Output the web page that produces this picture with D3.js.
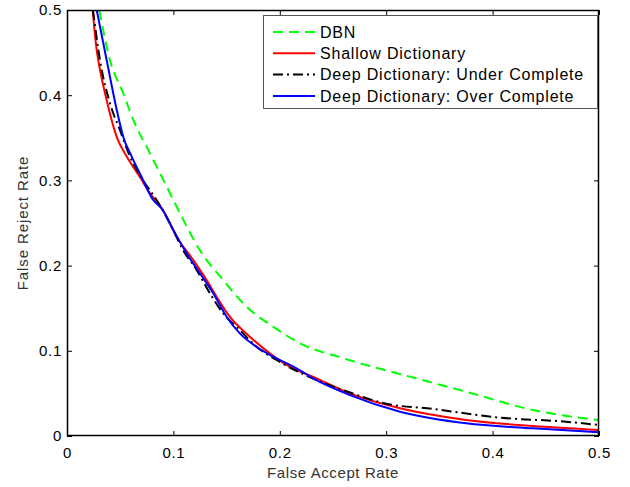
<!DOCTYPE html>
<html>
<head>
<meta charset="utf-8">
<script src="https://cdn.jsdelivr.net/npm/d3@7"></script>
<style>
  body { margin: 0; background: #fff; }
  svg { display: block; font-family: "Liberation Sans", Arial, sans-serif; }
  .tick text { font-size: 15px; fill: #000; font-family: "Liberation Sans", Arial, sans-serif; letter-spacing: 0.7px; }
</style>
</head>
<body>
<svg id="chart" width="630" height="487"></svg>
<script>
// curve points: [false accept rate, false reject rate]
var dbn = [
    [0.0303, 0.5], [0.0404, 0.441], [0.0529, 0.402], [0.0623, 0.371],
    [0.0779, 0.332], [0.0936, 0.293], [0.1092, 0.254], [0.1249, 0.218],
    [0.1468, 0.183], [0.1687, 0.1518], [0.1937, 0.1283], [0.2219, 0.107],
    [0.2563, 0.0925], [0.328, 0.0677], [0.375, 0.052], [0.438, 0.0305],
    [0.484, 0.021], [0.5, 0.0188]
];
var shallow = [
    [0.0241, 0.5], [0.0279, 0.453], [0.0294, 0.441], [0.0373, 0.394],
    [0.0467, 0.351], [0.0561, 0.328], [0.0685, 0.304], [0.0779, 0.285],
    [0.0904, 0.265], [0.103, 0.234], [0.1186, 0.2066], [0.1312, 0.183],
    [0.1406, 0.1635], [0.153, 0.140], [0.1718, 0.1166], [0.1906, 0.097],
    [0.2094, 0.0813], [0.2345, 0.0677], [0.266, 0.050], [0.313, 0.0325],
    [0.375, 0.0188], [0.438, 0.0117], [0.5, 0.007]
];
var underComplete = [
    [0.0244, 0.5], [0.031, 0.441], [0.0404, 0.3905], [0.0498, 0.359],
    [0.0592, 0.328], [0.0716, 0.300], [0.0842, 0.277], [0.0967, 0.2497],
    [0.1092, 0.218], [0.1218, 0.195], [0.1343, 0.1675], [0.1468, 0.144],
    [0.1624, 0.1244], [0.1781, 0.1048], [0.1969, 0.0892], [0.2216, 0.0728],
    [0.266, 0.051], [0.297, 0.0387], [0.344, 0.0317], [0.407, 0.0215],
    [0.469, 0.0168], [0.5, 0.0129]
];
var overComplete = [
    [0.0279, 0.5], [0.0373, 0.441], [0.0467, 0.383], [0.0529, 0.351],
    [0.0608, 0.328], [0.0701, 0.304], [0.081, 0.277], [0.0889, 0.267],
    [0.0998, 0.242], [0.1124, 0.2144], [0.1249, 0.191], [0.1374, 0.1675],
    [0.150, 0.140], [0.1624, 0.1205], [0.1781, 0.1048], [0.1937, 0.0931],
    [0.2157, 0.0795], [0.2313, 0.0677], [0.266, 0.048], [0.313, 0.0285],
    [0.375, 0.0149], [0.438, 0.009], [0.5, 0.0043]
];

var seriesNames = ["DBN", "Shallow Dictionary", "Deep Dictionary: Under Complete", "Deep Dictionary: Over Complete"];
var seriesData = [dbn, shallow, underComplete, overComplete];
var xTicks = [0, 0.1, 0.2, 0.3, 0.4, 0.5];
var yTicks = [0, 0.1, 0.2, 0.3, 0.4, 0.5];

(function () {
    var styles = [
        {color: "#00ff00", dash: "10,6"},
        {color: "#ff0000", dash: null},
        {color: "#000000", dash: "10,4,2,4"},
        {color: "#0000ff", dash: null}
    ];

    var plotLeft = 67, plotRight = 599, plotTop = 10, plotBottom = 436;

    var svg = d3.select("#chart");

    var x = d3.scaleLinear().domain([0, 0.5]).range([plotLeft, plotRight]);
    var y = d3.scaleLinear().domain([0, 0.5]).range([plotBottom, plotTop]);

    function fmt(d) { return d === 0 ? "0" : d3.format(".1f")(d); }

    // ticks point inward like matlab
    svg.append("g")
        .attr("transform", "translate(0," + plotBottom + ")")
        .call(d3.axisBottom(x).tickValues(xTicks).tickFormat(fmt).tickSizeInner(-5).tickSizeOuter(0).tickPadding(11));
    svg.append("g")
        .attr("transform", "translate(" + plotLeft + ",0)")
        .call(d3.axisLeft(y).tickValues(yTicks).tickFormat(fmt).tickSizeInner(-5).tickSizeOuter(0).tickPadding(5));
    svg.append("g")
        .attr("transform", "translate(0," + plotTop + ")")
        .call(d3.axisTop(x).tickValues(xTicks).tickFormat("").tickSizeInner(-5).tickSizeOuter(0));
    svg.append("g")
        .attr("transform", "translate(" + plotRight + ",0)")
        .call(d3.axisRight(y).tickValues(yTicks).tickFormat("").tickSizeInner(-5).tickSizeOuter(0));

    svg.selectAll(".domain").remove();
    svg.selectAll(".tick line").attr("stroke", "#000");

    svg.append("clipPath").attr("id", "plotclip")
      .append("rect")
        .attr("x", plotLeft).attr("y", plotTop)
        .attr("width", plotRight - plotLeft).attr("height", plotBottom - plotTop);

    var line = d3.line()
        .x(function (d) { return x(d[0]); })
        .y(function (d) { return y(d[1]); })
        .curve(d3.curveMonotoneX);

    svg.append("g").attr("clip-path", "url(#plotclip)")
      .selectAll("path")
        .data(seriesData)
      .enter().append("path")
        .attr("d", line)
        .attr("fill", "none")
        .attr("stroke", function (d, i) { return styles[i].color; })
        .attr("stroke-width", 2)
        .attr("stroke-dasharray", function (d, i) { return styles[i].dash; });

    svg.append("rect")
        .attr("x", plotLeft + 0.5).attr("y", plotTop + 0.5)
        .attr("width", plotRight - plotLeft - 1).attr("height", plotBottom - plotTop - 1)
        .attr("fill", "none").attr("stroke", "#000").attr("stroke-width", 1.5);

    // axis titles
    svg.append("text")
        .attr("x", (plotLeft + plotRight) / 2).attr("y", 478)
        .attr("text-anchor", "middle")
        .attr("font-size", 15).attr("letter-spacing", 0.6).attr("fill", "#333")
        .text("False Accept Rate");
    svg.append("text")
        .attr("transform", "translate(28," + ((plotTop + plotBottom) / 2) + ") rotate(-90)")
        .attr("text-anchor", "middle")
        .attr("font-size", 15).attr("letter-spacing", 0.9).attr("fill", "#333")
        .text("False Reject Rate");

    // legend
    var legend = svg.append("g").attr("transform", "translate(263,15)");
    legend.append("rect")
        .attr("x", 0.5).attr("y", 0.5).attr("width", 334).attr("height", 93)
        .attr("fill", "#fff").attr("stroke", "#555").attr("stroke-width", 1);

    var item = legend.selectAll(".item")
        .data(seriesNames)
      .enter().append("g")
        .attr("transform", function (d, i) { return "translate(0," + (17 + i * 21.3) + ")"; });
    item.append("line")
        .attr("x1", 10).attr("x2", 52)
        .attr("stroke", function (d, i) { return styles[i].color; })
        .attr("stroke-width", 2)
        .attr("stroke-dasharray", function (d, i) { return styles[i].dash; });
    item.append("text")
        .attr("x", 57).attr("dy", "0.35em")
        .attr("font-size", 16).attr("letter-spacing", 0.8)
        .text(function (d) { return d; });
})();
</script>
</body>
</html>
